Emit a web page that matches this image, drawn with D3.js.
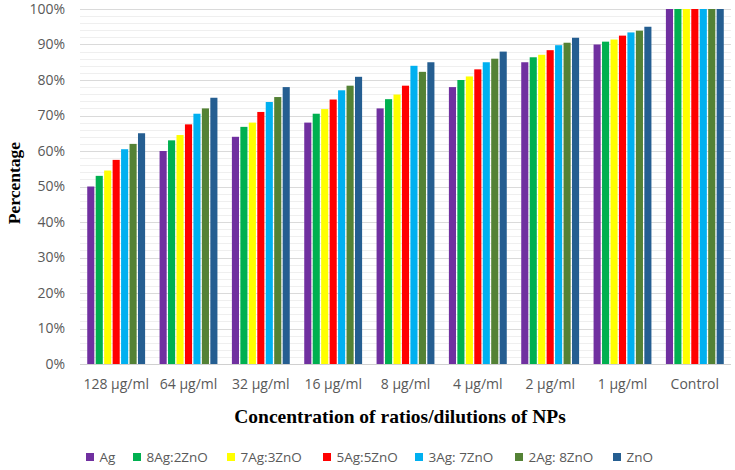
<!DOCTYPE html>
<html>
<head>
<meta charset="utf-8">
<script src="https://cdn.jsdelivr.net/npm/d3@7/dist/d3.min.js"></script>
<style>
  html, body { margin: 0; padding: 0; background: #fff; }
  svg { display: block; }
</style>
</head>
<body>
<svg id="chart" width="735" height="470"></svg>
<script>
const categories = ["128 µg/ml", "64 µg/ml", "32 µg/ml", "16 µg/ml", "8 µg/ml", "4 µg/ml", "2 µg/ml", "1 µg/ml", "Control"];
const seriesNames = ["Ag", "8Ag:2ZnO", "7Ag:3ZnO", "5Ag:5ZnO", "3Ag: 7ZnO", "2Ag: 8ZnO", "ZnO"];
const seriesColors = ["#7030A0", "#00B050", "#FFFF00", "#FF0000", "#00B0F0", "#548235", "#255E91"];
const valuesAg   = [50, 60, 64, 68, 72, 78, 85, 90, 100];
const values8Ag  = [53, 63, 66.8, 70.5, 74.6, 80, 86.4, 90.8, 100];
const values7Ag  = [54.5, 64.5, 68, 71.8, 75.9, 81, 87.1, 91.4, 100];
const values5Ag  = [57.5, 67.5, 71, 74.5, 78.4, 83, 88.4, 92.5, 100];
const values3Ag  = [60.5, 70.5, 73.8, 77.1, 84, 85, 89.8, 93.4, 100];
const values2Ag  = [62, 72, 75.2, 78.4, 82.3, 86, 90.5, 93.9, 100];
const valuesZnO  = [65, 75, 78, 80.9, 85, 88, 91.9, 95, 100];
const yTicks = [0, 10, 20, 30, 40, 50, 60, 70, 80, 90, 100];

const seriesValues = [valuesAg, values8Ag, values7Ag, values5Ag, values3Ag, values2Ag, valuesZnO];

const FONT = "'Open Sans', sans-serif";
const svg = d3.select("#chart");
const margin = { left: 80, right: 4, top: 9, bottom: 106 };
const W = 735, H = 470;
const x0 = d3.scaleBand().domain(categories).range([margin.left, W - margin.right]).paddingInner(0.2).paddingOuter(0.1);
const x1 = d3.scaleBand().domain(seriesNames).range([0, x0.bandwidth()]).paddingInner(0.16);
const y = d3.scaleLinear().domain([0, 100]).range([364, margin.top]);

// minor gridlines
const minor = d3.range(0, 101, 2).filter(v => v % 10 !== 0);
svg.append("g").selectAll("line").data(minor).join("line")
  .attr("x1", margin.left).attr("x2", W - margin.right)
  .attr("y1", d => Math.round(y(d)) + 0.5).attr("y2", d => Math.round(y(d)) + 0.5)
  .attr("stroke", "#efefef").attr("stroke-width", 1);

// major gridlines
svg.append("g").selectAll("line").data(yTicks).join("line")
  .attr("x1", margin.left).attr("x2", W - margin.right)
  .attr("y1", d => Math.round(y(d)) + 0.5).attr("y2", d => Math.round(y(d)) + 0.5)
  .attr("stroke", d => d === 0 ? "#d0d0d0" : "#dadada").attr("stroke-width", 1);

// y axis labels
const yAxis = d3.axisLeft(y).tickValues(yTicks).tickFormat(d => d + "%").tickSize(0).tickPadding(15);
const ya = svg.append("g").attr("transform", `translate(${margin.left},0)`).call(yAxis);
ya.select(".domain").remove();
ya.selectAll("text").attr("font-family", FONT)
  .attr("font-size", 14).attr("fill", "#595959");

// bars
const groups = svg.append("g").selectAll("g").data(categories).join("g")
  .attr("transform", d => `translate(${x0(d)},0)`);
groups.selectAll("rect").data((c, ci) => seriesNames.map((s, si) => ({ s, si, v: seriesValues[si][ci] })))
  .join("rect")
  .attr("x", d => x1(d.s))
  .attr("width", x1.bandwidth())
  .attr("y", d => y(d.v))
  .attr("height", d => y(0) - y(d.v))
  .attr("fill", d => seriesColors[d.si]);

// x axis labels
const xAxis = d3.axisBottom(x0).tickSize(0).tickPadding(15.5);
const xa = svg.append("g").attr("transform", `translate(0,${y(0)})`).call(xAxis);
xa.select(".domain").remove();
xa.selectAll("text").attr("font-family", FONT)
  .attr("font-size", 14).attr("fill", "#595959");

// axis titles
svg.append("text").attr("x", 400).attr("y", 423).attr("text-anchor", "middle")
  .attr("font-family", "'Liberation Serif', 'Times New Roman', serif").attr("font-weight", "bold")
  .attr("font-size", 19.5).attr("fill", "#000").text("Concentration of ratios/dilutions of NPs");
svg.append("text").attr("transform", "translate(20,183) rotate(-90)").attr("text-anchor", "middle")
  .attr("font-family", "'Liberation Serif', 'Times New Roman', serif").attr("font-weight", "bold")
  .attr("font-size", 17.5).attr("fill", "#000").text("Percentage");

// legend
const legendX = [86, 133, 227, 323, 415, 515, 613];
const lg = svg.append("g").selectAll("g").data(seriesNames).join("g")
  .attr("transform", (d, i) => `translate(${legendX[i]},462)`);
lg.append("rect").attr("x", 0).attr("y", -9).attr("width", 8).attr("height", 8)
  .attr("fill", (d, i) => seriesColors[i]);
lg.append("text").attr("x", 13.5).attr("y", 0)
  .attr("font-family", FONT)
  .attr("font-size", 13.5).attr("fill", "#595959").text(d => d);
</script>
</body>
</html>
